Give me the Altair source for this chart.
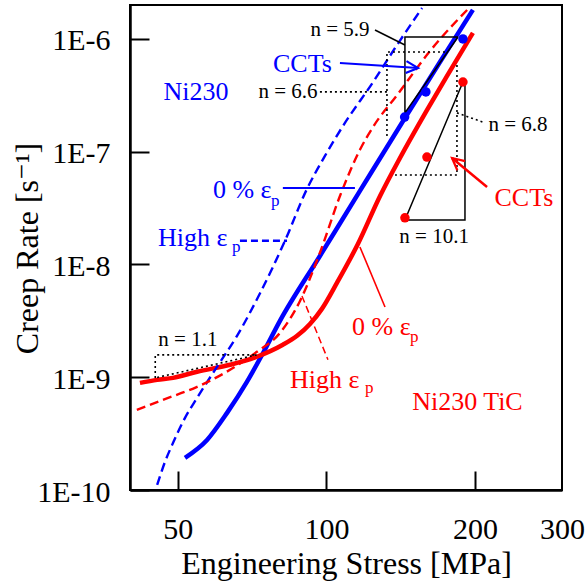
import altair as alt
import pandas as pd

BLUE = "#0000ff"
RED = "#ff0000"
BLACK = "#000000"
FONT = "'Liberation Serif', 'Times New Roman', Times, 'DejaVu Serif', serif"

# ---- curves (stress MPa, creep rate 1/s) ----
ni230_0_stress = [51.7, 57.3, 62.9, 69.0, 74.4, 80.5, 97.0, 116.9, 144.2, 169.8, 198.0]
ni230_0_rate = [1.93e-10, 2.78e-10, 4.83e-10, 9.09e-10, 1.64e-9, 3.16e-9, 1.19e-8, 4.49e-8, 1.99e-7, 6.25e-7, 1.81e-6]

ni230_high_stress = [45.4, 47.1, 48.9, 51.7, 54.7, 60.0, 65.9, 73.4, 82.4, 91.3, 99.3, 108.0, 124.3, 139.0, 156.2]
ni230_high_rate = [1.11e-10, 1.78e-10, 2.62e-10, 4.36e-10, 6.56e-10, 1.235e-9, 2.33e-9, 5.59e-9, 1.62e-8, 4.67e-8, 9.17e-8, 1.69e-7, 4.15e-7, 8.84e-7, 1.88e-6]

tic_0_stress = [41.9, 45.4, 48.9, 54.7, 63.8, 72.3, 81.6, 87.2, 92.6, 97.9, 105.0, 115.8, 128.4, 140.9, 159.8, 175.4, 198.0]
tic_0_rate = [8.91e-10, 9.48e-10, 9.87e-10, 1.12e-9, 1.29e-9, 1.52e-9, 1.94e-9, 2.33e-9, 2.97e-9, 4.04e-9, 6.86e-9, 1.52e-8, 4.05e-8, 8.80e-8, 2.34e-7, 4.69e-7, 1.13e-6]

tic_high_stress = [41.3, 46.6, 54.7, 61.7, 72.3, 80.5, 88.4, 97.0, 106.5, 116.9, 124.3, 139.0, 162.1, 195.3]
tic_high_rate = [5.14e-10, 6.30e-10, 8.21e-10, 1.07e-9, 1.68e-9, 2.47e-9, 4.75e-9, 1.27e-8, 4.05e-8, 1.04e-7, 1.66e-7, 3.18e-7, 7.82e-7, 1.92e-6]

# ---- CCT data points ----
ni230_cct_stress = [144.0, 159.0, 189.0]
ni230_cct_rate = [2.03e-7, 3.39e-7, 1.0e-6]
tic_cct_stress = [144.2, 159.8, 189.0]
tic_cct_rate = [2.59e-8, 8.97e-8, 4.15e-7]

# ---- axis ticks ----
x_ticks = [50, 100, 200, 300]
x_inner_ticks = [50, 100, 200]
y_ticks = [1e-10, 1e-9, 1e-8, 1e-7, 1e-6]

# ---- annotation lines (id, stress list, rate list[, colour, width]) ----
solid_notes = [
    ("tri59", [184.7, 144.2, 144.2, 184.7], [1.04e-6, 1.04e-6, 2.21e-7, 1.04e-6], BLACK, 1.5),
    ("lead59", [125.4, 144.2], [1.20e-6, 8.84e-7], BLACK, 1.5),
    ("tri101", [189.0, 144.2, 190.8, 190.8], [4.15e-7, 2.48e-8, 2.48e-8, 3.9e-7], BLACK, 1.5),
    ("blead0", [81.6, 114.2], [4.77e-8, 4.77e-8], BLUE, 2.0),
    ("rlead0", [116.9, 131.4], [1.43e-8, 4.20e-9], RED, 1.6),
    ("barrow", [106.5, 153.3], [6.12e-7, 5.53e-7], BLUE, 2.0),
    ("rarrow", [211.5, 179.6], [4.87e-8, 8.80e-8], RED, 2.5),
]
dotted_notes = [
    ("L66", [173.8, 132.6, 132.6], [7.66e-7, 7.66e-7, 1.35e-7]),
    ("lead66", [97.0, 132.6], [3.39e-7, 3.39e-7]),
    ("L68", [183.8, 183.8, 137.7], [5.87e-7, 6.22e-8, 6.22e-8]),
    ("lead68", [183.8, 209.5], [2.21e-7, 1.80e-7]),
    ("tri11", [45.0, 45.0, 72.3, 45.0], [9.87e-10, 1.58e-9, 1.58e-9, 9.87e-10]),
]
dashed_notes = [
    ("bleadh", [66.8, 83.2], [1.62e-8, 1.62e-8], BLUE, 2.5),
    ("rleadh", [89.2, 100.7], [5.26e-9, 1.43e-9], RED, 1.5),
]
arrow_heads = [(153.3, 5.53e-7, 4, BLUE), (179.6, 8.80e-8, 220, RED)]

center_texts = [
    ("Ni230", 54.4, 3.39e-7, BLUE, 26),
    ("CCTs", 89.4, 6.0e-7, BLUE, 26),
    ("n = 5.9", 106.5, 1.20e-6, BLACK, 21),
    ("n = 6.6", 83.6, 3.39e-7, BLACK, 21),
    ("n = 6.8", 244.3, 1.73e-7, BLACK, 21),
    ("n = 10.1", 165.2, 1.75e-8, BLACK, 21),
    ("n = 1.1", 52.4, 2.14e-9, BLACK, 21),
    ("CCTs", 251.2, 3.89e-8, RED, 26),
    ("Ni230 TiC", 193.0, 6.05e-10, RED, 26),
]
left_texts = [
    ("0 % ε", 58.9, 4.58e-8, BLUE, 26),
    ("p", 77.2, 3.66e-8, BLUE, 17),
    ("High ε", 45.6, 1.72e-8, BLUE, 26),
    ("p", 64.4, 1.43e-8, BLUE, 17),
    ("0 % ε", 112.7, 2.79e-9, RED, 26),
    ("p", 147.6, 2.28e-9, RED, 17),
    ("High ε", 84.4, 9.48e-10, RED, 26),
    ("p", 119.7, 8.04e-10, RED, 17),
]

# ---- build tables ----
def curve_df(specs):
    rows = []
    for name, xs, ys, color in specs:
        for i, (s, r) in enumerate(zip(xs, ys)):
            rows.append(dict(id=name, stress=s, rate=r, color=color, seq=i))
    return pd.DataFrame(rows)

solid_curves = curve_df([
    ("Ni230 0%", ni230_0_stress, ni230_0_rate, BLUE),
    ("Ni230 TiC 0%", tic_0_stress, tic_0_rate, RED),
])
dashed_curves = curve_df([
    ("Ni230 high", ni230_high_stress, ni230_high_rate, BLUE),
    ("Ni230 TiC high", tic_high_stress, tic_high_rate, RED),
])
dots = pd.DataFrame(
    [dict(stress=s, rate=r, color=BLUE) for s, r in zip(ni230_cct_stress, ni230_cct_rate)]
    + [dict(stress=s, rate=r, color=RED) for s, r in zip(tic_cct_stress, tic_cct_rate)]
)

def note_df(specs, default_color=BLACK, default_w=1.5):
    rows = []
    for spec in specs:
        name, xs, ys = spec[0], spec[1], spec[2]
        color = spec[3] if len(spec) > 3 else default_color
        w = spec[4] if len(spec) > 4 else default_w
        for i, (s, r) in enumerate(zip(xs, ys)):
            rows.append(dict(id=name, stress=s, rate=r, color=color, w=w, seq=i))
    return pd.DataFrame(rows)

solid_df = note_df(solid_notes)
dotted_df = note_df(dotted_notes)
dashed_df = note_df(dashed_notes)
heads_df = pd.DataFrame([dict(stress=s, rate=r, ang=a, color=c) for s, r, a, c in arrow_heads])
ctext_df = pd.DataFrame([dict(text=t, stress=s, rate=r, color=c, fs=f) for t, s, r, c, f in center_texts])
ltext_df = pd.DataFrame([dict(text=t, stress=s, rate=r, color=c, fs=f) for t, s, r, c, f in left_texts])

W, H = 432, 485
XS = alt.Scale(type="log", domain=[40, 300], nice=False)
YS = alt.Scale(type="log", domain=[1e-10, 2e-6], nice=False)

def X(axis=None):
    return alt.X("stress:Q", scale=XS, axis=axis)

def Y(axis=None):
    return alt.Y("rate:Q", scale=YS, axis=axis)

x_axis = alt.Axis(
    orient="bottom", values=x_ticks, format="d", ticks=False, tickSize=0,
    labelPadding=48, labelBaseline="alphabetic", labelFlush=False, labelOverlap=False,
    title="Engineering Stress [MPa]", titleX=216, titleY=83,
    titleBaseline="alphabetic", titleAlign="center",
    domainWidth=2.5, domainColor="black", grid=False,
)
y_axis = alt.Axis(
    orient="left", values=y_ticks, labelExpr="'1E' + round(log(datum.value)/LN10)",
    ticks=False, tickSize=0, labelPadding=20, labelOffset=2,
    labelFlush=False, labelOverlap=False,
    title="Creep Rate [s⁻¹]", titleX=-93, titleY=243, titleAngle=270,
    titleAlign="center", titleBaseline="alphabetic",
    domainWidth=2.5, domainColor="black", grid=False,
)
x_tick_axis = alt.Axis(
    orient="top", offset=-H, values=x_inner_ticks, ticks=True, tickSize=19,
    tickWidth=2, tickColor="black", labels=False, domain=False, title=None, grid=False,
)
y_tick_axis = alt.Axis(
    orient="right", offset=-W, values=y_ticks, ticks=True, tickSize=19,
    tickWidth=2, tickColor="black", labels=False, domain=False, title=None, grid=False,
)

solid_layer = alt.Chart(solid_curves).mark_line(strokeWidth=4.5, interpolate="monotone").encode(
    x=X(x_axis), y=Y(y_axis), detail="id:N", order="seq:Q",
    color=alt.Color("color:N", scale=None),
)
dashed_layer = alt.Chart(dashed_curves).mark_line(
    strokeWidth=2.4, strokeDash=[9, 5], interpolate="monotone"
).encode(x=X(), y=Y(), detail="id:N", order="seq:Q", color=alt.Color("color:N", scale=None))

solid_note_layer = alt.Chart(solid_df).mark_line().encode(
    x=X(), y=Y(), detail="id:N", order="seq:Q",
    color=alt.Color("color:N", scale=None), strokeWidth=alt.StrokeWidth("w:Q", scale=None),
)
dotted_note_layer = alt.Chart(dotted_df).mark_line(strokeDash=[2, 3], strokeWidth=1.6, color="black").encode(
    x=X(), y=Y(), detail="id:N", order="seq:Q",
)
dashed_note_layer = alt.Chart(dashed_df).mark_line(strokeDash=[7, 4]).encode(
    x=X(), y=Y(), detail="id:N", order="seq:Q",
    color=alt.Color("color:N", scale=None), strokeWidth=alt.StrokeWidth("w:Q", scale=None),
)
dot_layer = alt.Chart(dots).mark_circle(size=90, opacity=1).encode(
    x=X(), y=Y(), color=alt.Color("color:N", scale=None),
)
head_layer = alt.Chart(heads_df).mark_point(
    shape="M -2 -1 L 0 0 L -2 1", filled=False, size=144, strokeWidth=2.2, opacity=1
).encode(x=X(), y=Y(), color=alt.Color("color:N", scale=None), angle=alt.Angle("ang:Q", scale=None))

ctext_layer = alt.Chart(ctext_df).mark_text(font=FONT, align="center", baseline="middle").encode(
    x=X(), y=Y(), text="text:N", color=alt.Color("color:N", scale=None), size=alt.Size("fs:Q", scale=None),
)
ltext_layer = alt.Chart(ltext_df).mark_text(font=FONT, align="left", baseline="middle").encode(
    x=X(), y=Y(), text="text:N", color=alt.Color("color:N", scale=None), size=alt.Size("fs:Q", scale=None),
)
tick_layer = alt.Chart(pd.DataFrame({"stress": [50.0], "rate": [1e-9]})).mark_point(opacity=0).encode(
    x=X(x_tick_axis), y=Y(y_tick_axis),
)

chart = alt.layer(
    solid_layer, dashed_layer, dotted_note_layer, solid_note_layer, dashed_note_layer,
    dot_layer, head_layer, ctext_layer, ltext_layer, tick_layer,
).resolve_axis(x="independent", y="independent").properties(
    width=W, height=H,
    autosize=alt.AutoSizeParams(type="none"),
    padding={"left": 130, "top": 5, "right": 25, "bottom": 93},
    background="white",
).configure_view(stroke="black", strokeWidth=2).configure_axis(
    labelFont=FONT, titleFont=FONT,
    labelFontSize=30, titleFontSize=32, titleFontWeight="normal",
    labelColor="black", titleColor="black", grid=False,
)

chart.save("out.html", embed_options={"renderer": "svg", "actions": False})
